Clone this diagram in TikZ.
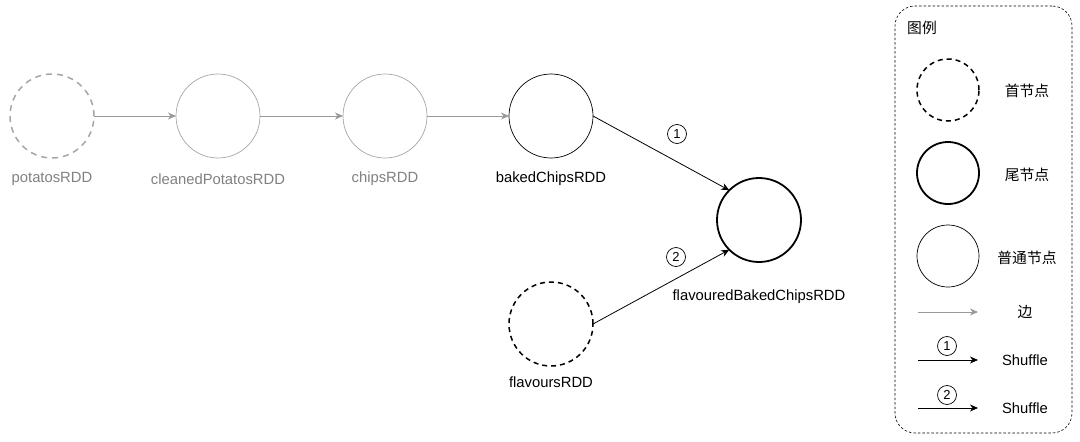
\documentclass[tikz,border=0pt]{standalone}
\usepackage{fontspec}
\setmainfont{Liberation Sans}
\newfontfamily\cjk{Noto Sans CJK SC}
\usetikzlibrary{arrows.meta}
\definecolor{edgegray}{HTML}{999999}
\definecolor{nodegray}{HTML}{A6A6A6}
\definecolor{textgray}{HTML}{808080}
\tikzset{
  rdd/.style={circle,minimum size=84pt,inner sep=0pt,outer sep=0pt},
  lrdd/.style={circle,minimum size=62pt,inner sep=0pt,outer sep=0pt},
  firstnode/.style={draw=black,line width=1.5pt,dash pattern=on 5pt off 4pt},
  firstgray/.style={draw=nodegray,line width=1.5pt,dash pattern=on 6pt off 5pt},
  tailnode/.style={draw=black,line width=1.8pt},
  plainnode/.style={draw=black,line width=0.7pt},
  plaingray/.style={draw=nodegray,line width=0.7pt},
  lbl/.style={font=\fontsize{14.8}{16}\selectfont,inner sep=0pt},
  graylbl/.style={lbl,text=textgray},
  grayedge/.style={draw=edgegray,line width=0.8pt,-{Stealth[length=8pt,width=7pt,inset=2.5pt]}},
  blackedge/.style={draw=black,line width=0.8pt,-{Stealth[length=8pt,width=7pt,inset=2.5pt]}},
  numc/.style={circle,draw=black,line width=0.7pt,minimum size=19pt,inner sep=0pt,font=\fontsize{13}{13}\selectfont},
  legendbox/.style={draw=black,line width=0.6pt,dash pattern=on 2.5pt off 2pt,rounded corners=20pt},
}
\begin{document}
\begin{tikzpicture}[x=1pt,y=-1pt]
\useasboundingbox (0,0) rectangle (1080,442);
% main nodes
\node[rdd,firstgray] (pot) at (52,116) {};
\node[rdd,plaingray] (cle) at (218,116) {};
\node[rdd,plaingray] (chi) at (385,116) {};
\node[rdd,plainnode] (bak) at (551,116) {};
\node[rdd,tailnode] (fbc) at (759,220) {};
\node[rdd,firstnode] (fla) at (551,324) {};
% labels
\node[graylbl] (potl) at (52,179) {potatosRDD};
\node[graylbl] (clel) at (218,179) {cleanedPotatosRDD};
\node[graylbl] (chil) at (385,179) {chipsRDD};
\node[lbl] (bakl) at (551,179) {bakedChipsRDD};
\node[lbl] (fbcl) at (759,297) {flavouredBakedChipsRDD};
\node[lbl] (flal) at (551,382) {flavoursRDD};
% edges
\draw[grayedge] (pot) -- (cle);
\draw[grayedge] (cle) -- (chi);
\draw[grayedge] (chi) -- (bak);
\draw[blackedge] (bak.east) -- (fbc.135);
\draw[blackedge] (fla.east) -- (fbc.225);
\node[numc] (n1) at (677,134) {1};
\node[numc] (n2) at (676,257) {2};
% legend
\node[legendbox,minimum width=177pt,minimum height=427pt,inner sep=0pt] (leg) at (983.5,219.5) {};
\node[lbl,anchor=west] (legt) at (907,28) {\cjk 图例};
\node[lrdd,firstnode] (l1) at (948,90) {};
\node[lrdd,tailnode] (l2) at (948,173) {};
\node[lrdd,plainnode] (l3) at (948,256) {};
\node[lbl] (l1t) at (1027,91) {\cjk 首节点};
\node[lbl] (l2t) at (1027,175) {\cjk 尾节点};
\node[lbl] (l3t) at (1027,258) {\cjk 普通节点};
\coordinate (e1a) at (918,312);
\coordinate (e1b) at (978,312);
\draw[grayedge] (e1a) -- (e1b);
\node[lbl] (e1t) at (1025,312) {\cjk 边};
\node[numc] (ln1) at (947,346) {1};
\coordinate (e2a) at (918,360);
\coordinate (e2b) at (978,360);
\draw[blackedge] (e2a) -- (e2b);
\node[lbl] (e2t) at (1025,360) {Shuffle};
\node[numc] (ln2) at (947,395) {2};
\coordinate (e3a) at (918,408);
\coordinate (e3b) at (978,408);
\draw[blackedge] (e3a) -- (e3b);
\node[lbl] (e3t) at (1025,408) {Shuffle};
\end{tikzpicture}
\end{document}
